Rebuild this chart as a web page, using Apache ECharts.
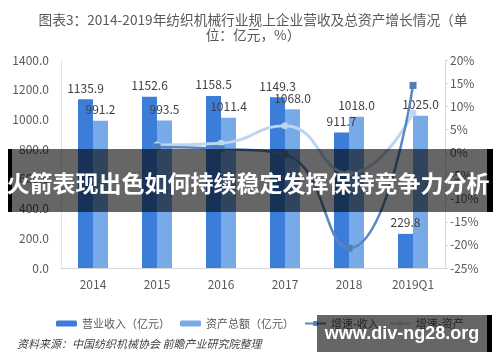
<!DOCTYPE html>
<html><head><meta charset="utf-8">
<script src="https://cdn.jsdelivr.net/npm/echarts@6/dist/echarts.min.js"></script>
<style>html,body{margin:0;padding:0;background:#fff}#c{width:500px;height:362px}</style>
</head><body><div id="c"></div>
<script>
var categories = ['2014','2015','2016','2017','2018','2019Q1'];
var revenue = [1135.9, 1152.6, 1158.5, 1149.3, 911.7, 229.8];
var assets = [991.2, 993.5, 1011.4, 1068.0, 1018.0, 1025.0];
var revenueGrowth = ['-', 1.2, 0.8, -0.5, -20.7, 14.5];
var assetGrowth = ['-', 1.6, 2.0, 5.8, -4.5, 8.6];
var leftTicks = {min: 0, max: 1400, interval: 200};
var rightTicks = {min: -25, max: 20, interval: 5};

var chart = echarts.init(document.getElementById('c'));
var font = '"Noto Sans CJK SC", "Noto Sans", sans-serif';
chart.setOption({
  animation: false,
  textStyle: {fontFamily: font},
  title: {
    text: '图表3：2014-2019年纺织机械行业规上企业营收及总资产增长情况（单\n位：亿元，%）',
    left: 248, top: 7, textAlign: 'center',
    textStyle: {fontSize: 13.7, fontWeight: 'normal', color: '#595959', lineHeight: 15, fontFamily: font}
  },
  grid: {left: 61, right: 55, top: 60, bottom: 94},
  legend: {
    data: ['营业收入（亿元）', '资产总额（亿元）', '增速-收入', '增速-资产'],
    left: 51, top: 313, itemWidth: 21, itemHeight: 6, itemGap: 10,
    textStyle: {fontSize: 11, color: '#595959', fontFamily: font}
  },
  xAxis: {
    type: 'category', data: categories,
    axisLine: {lineStyle: {color: '#d9d9d9'}},
    axisTick: {show: false},
    axisLabel: {color: '#595959', fontSize: 12, margin: 10}
  },
  yAxis: [{
    type: 'value', min: leftTicks.min, max: leftTicks.max, interval: leftTicks.interval,
    axisLine: {show: true, lineStyle: {color: '#e3e3e3'}},
    axisTick: {show: false}, splitLine: {show: false},
    axisLabel: {color: '#595959', fontSize: 12, margin: 12, formatter: function (v) { return v.toFixed(1); }}
  }, {
    type: 'value', min: rightTicks.min, max: rightTicks.max, interval: rightTicks.interval,
    axisLine: {show: true, lineStyle: {color: '#d9d9d9'}},
    axisTick: {show: true, length: 3, lineStyle: {color: '#d9d9d9'}}, splitLine: {show: false},
    axisLabel: {color: '#595959', fontSize: 12, margin: 5, formatter: '{value}%'}
  }],
  series: [{
    name: '营业收入（亿元）', type: 'bar', data: revenue, barWidth: 15, barGap: '0%',
    itemStyle: {color: '#3b7dd8'},
    label: {show: true, position: 'top', distance: 5, color: '#404040', fontSize: 12, formatter: function (p) { return p.value.toFixed(1); }}
  }, {
    name: '资产总额（亿元）', type: 'bar', data: assets, barWidth: 15,
    itemStyle: {color: '#78aae8'},
    label: {show: true, position: 'top', distance: 5, color: '#404040', fontSize: 12, formatter: function (p) { return p.value.toFixed(1); }}
  }, {
    name: '增速-资产', type: 'line', yAxisIndex: 1, data: assetGrowth, smooth: true,
    symbol: 'circle', symbolSize: 7,
    lineStyle: {color: '#bcd6ef', width: 3}, itemStyle: {color: '#bcd6ef'}
  }, {
    name: '增速-收入', type: 'line', yAxisIndex: 1, data: revenueGrowth, smooth: true,
    symbol: 'rect', symbolSize: 7,
    lineStyle: {color: '#5b86c0', width: 2.5}, itemStyle: {color: '#4f7fba'}
  }],
  graphic: [
    {type: 'text', left: 17, top: 338, style: {text: '资料来源：中国纺织机械协会 前瞻产业研究院整理', fontSize: 11, fontStyle: 'italic', fill: '#404040', fontFamily: font}},
    {type: 'rect', shape: {x: 12, y: 149, width: 475, height: 63}, style: {fill: 'rgba(0,0,0,0.6)'}, z: 100},
    {type: 'rect', shape: {x: 8, y: 149, width: 4, height: 63}, style: {fill: '#000'}, z: 100},
    {type: 'rect', shape: {x: 487, y: 149, width: 6, height: 63}, style: {fill: '#000'}, z: 100},
    {type: 'text', x: 248, y: 183, style: {text: '火箭表现出色如何持续稳定发挥保持竞争力分析', fontSize: 23, fontWeight: 'bold', fill: '#fff', align: 'center', verticalAlign: 'middle', fontFamily: font}, z: 101},
    {type: 'rect', shape: {x: 317, y: 315, width: 170, height: 37}, style: {fill: 'rgba(0,0,0,0.6)'}, z: 100},
    {type: 'rect', shape: {x: 487, y: 315, width: 5, height: 37}, style: {fill: '#000'}, z: 100},
    {type: 'text', x: 402, y: 334, style: {text: 'www.div-ng28.org', fontSize: 18, fontWeight: 'bold', fill: '#fff', align: 'center', verticalAlign: 'middle', fontFamily: '"Liberation Sans", Arial, sans-serif'}, z: 101}
  ]
});
</script></body></html>
